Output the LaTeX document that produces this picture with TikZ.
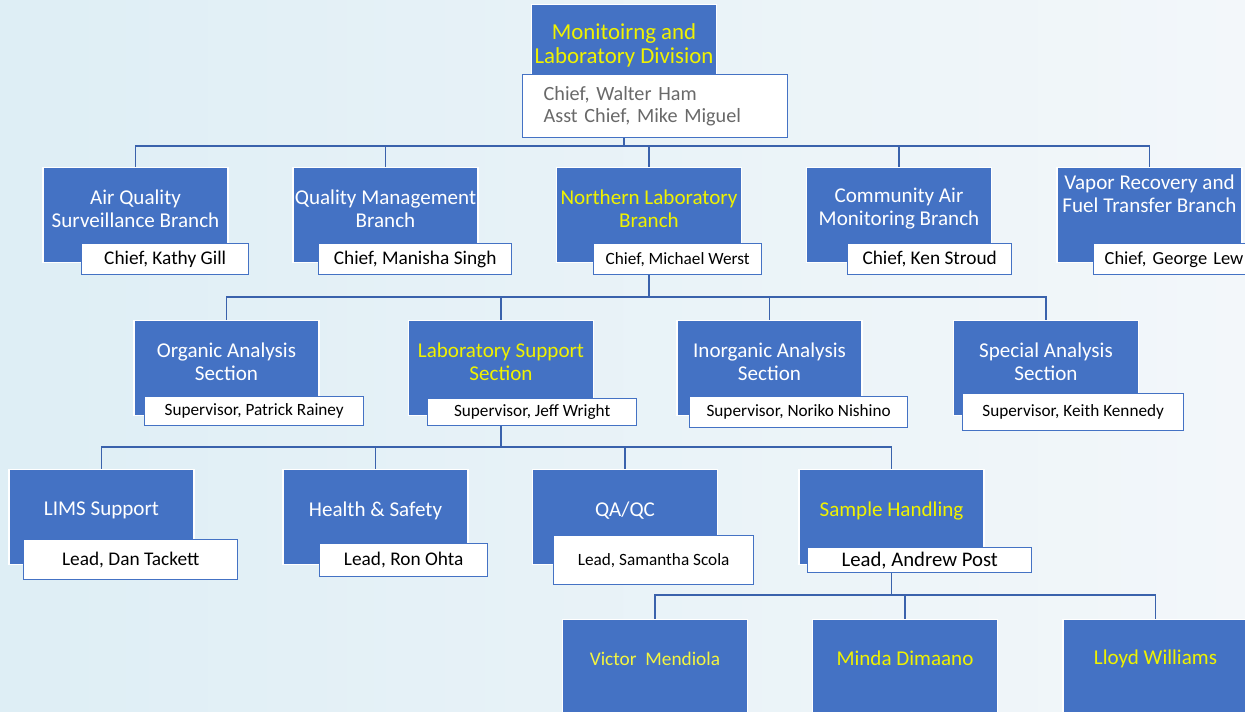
\documentclass[tikz,border=0pt]{standalone}
\usepackage{fontspec}
\setmainfont{Carlito}
\usetikzlibrary{positioning}
\definecolor{azul}{RGB}{68,114,196}
\definecolor{azulo}{RGB}{58,98,172}
\definecolor{amarillo}{RGB}{240,242,0}
\definecolor{gris}{RGB}{105,105,105}
\definecolor{fondoa}{RGB}{222,238,245}
\definecolor{fondob}{RGB}{243,247,250}
\tikzset{
  subida/.store in=\subida, subida=0.26cm,
  caja/.style={rectangle, fill=azul, draw=white, line width=0.8pt, inner sep=0pt,
    text=white, font=\fontsize{12}{13}\selectfont,
    execute at begin node={\begin{minipage}[c][1.9cm][c]{3.7cm}\centering},
    execute at end node={\par\vspace{\subida}\end{minipage}}},
  cajaj/.style={caja, text=amarillo},
  jefe/.style={rectangle, fill=white, draw=azul, line width=0.8pt, inner sep=0pt,
    anchor=north west, font=\fontsize{11}{13}\selectfont},
  jefes/.style={jefe, font=\fontsize{9.8}{12}\selectfont},
  linea/.style={draw=azulo, line width=1.1pt}
}

\begin{document}
\begin{tikzpicture}[x=0.02cm, y=-0.02cm]
  \useasboundingbox (0,0) rectangle (1245,711);
  \clip (0,0) rectangle (1245,711);
  \shade[left color=fondoa, right color=fondob] (0,0) rectangle (1245,711);

  % division
  \node[cajaj, anchor=north, font=\fontsize{13}{13.6}\selectfont] (div) at (624,4) {Monitoirng and\\Laboratory Division};
  \node[jefe, minimum width=5.3cm, minimum height=1.26cm, text width=4.46cm, inner xsep=0.42cm,
    align=left, text=gris, font=\fontsize{11.5}{12.5}\selectfont] (divjefe) at (522,74)
    {Chief,\ Walter Ham\\Asst Chief,\ Mike Miguel};

  % branches
  \node[caja, anchor=north] (aqs) at (135.5,167) {Air Quality\\Surveillance Branch};
  \node[jefe, minimum width=3.34cm, minimum height=0.62cm] (aqsjefe) at (81,243) {Chief, Kathy Gill};
  \node[caja, anchor=north] (qmb) at (385.5,167) {Quality Management\\Branch};
  \node[jefe, minimum width=3.86cm, minimum height=0.62cm] (qmbjefe) at (318,243) {Chief, Manisha Singh};
  \node[cajaj, anchor=north] (nlb) at (649,167) {Northern Laboratory\\Branch};
  \node[jefes, minimum width=3.36cm, minimum height=0.62cm] (nlbjefe) at (593,243) {Chief, Michael Werst};
  \node[caja, anchor=north] (cam) at (899,167) {Community Air\\Monitoring Branch};
  \node[jefe, minimum width=3.28cm, minimum height=0.62cm] (camjefe) at (847,243) {Chief, Ken Stroud};
  \node[caja, anchor=north, subida=0.86cm] (vrf) at (1149.5,167) {Vapor Recovery and\\Fuel Transfer Branch};
  \node[jefe, minimum height=0.62cm, text width=3.4cm, inner xsep=0.22cm, align=left,
    font=\fontsize{10.5}{13}\selectfont] (vrfjefe) at (1093,243) {Chief, George Lew};

  % sections
  \node[caja, anchor=north] (oas) at (226.5,320) {Organic Analysis\\Section};
  \node[jefes, minimum width=4.38cm, minimum height=0.58cm] (oasjefe) at (144,396) {Supervisor, Patrick Rainey};
  \node[cajaj, anchor=north] (lss) at (501,320) {Laboratory Support\\Section};
  \node[jefes, minimum width=4.18cm, minimum height=0.54cm] (lssjefe) at (427,398) {Supervisor, Jeff Wright};
  \node[caja, anchor=north] (ias) at (769.5,320) {Inorganic Analysis\\Section};
  \node[jefes, minimum width=4.36cm, minimum height=0.62cm] (iasjefe) at (689,396) {Supervisor, Noriko Nishino};
  \node[caja, anchor=north] (sas) at (1046,320) {Special Analysis\\Section};
  \node[jefes, minimum width=4.42cm, minimum height=0.74cm] (sasjefe) at (962,393) {Supervisor, Keith Kennedy};

  % units
  \node[caja, anchor=north] (lims) at (101.5,469) {LIMS Support};
  \node[jefe, minimum width=4.28cm, minimum height=0.8cm] (limsjefe) at (23,539) {Lead, Dan Tackett};
  \node[caja, anchor=north] (hys) at (375.5,469) {Health \& Safety};
  \node[jefe, minimum width=3.36cm, minimum height=0.66cm] (hysjefe) at (319,543) {Lead, Ron Ohta};
  \node[caja, anchor=north] (qac) at (625,469) {QA/QC};
  \node[jefes, minimum width=4.0cm, minimum height=0.98cm] (qacjefe) at (553,535) {Lead, Samantha Scola};
  \node[cajaj, anchor=north] (smh) at (891.5,469) {Sample Handling};
  \node[jefe, minimum width=4.48cm, minimum height=0.5cm, font=\fontsize{11.8}{13}\selectfont] (smhjefe) at (807,547) {Lead, Andrew Post};

  % staff
  \node[cajaj, anchor=north, subida=0.34cm, font=\fontsize{11}{13}\selectfont, text=amarillo!75!white] (vme) at (655,619) {Victor\ \ Mendiola};
  \node[cajaj, anchor=north, subida=0.34cm] (mdi) at (905,619) {Minda Dimaano};
  \node[cajaj, anchor=north, subida=0.34cm] (lwi) at (1155.5,619) {Lloyd Williams};

  \coordinate (bus1) at (0,146);
  \coordinate (bus2) at (0,297);
  \coordinate (bus3) at (0,447);
  \coordinate (bus4) at (0,595);
  \foreach \n in {aqs,qmb,nlb,cam,vrf}
    \draw[linea] (divjefe.south -| div) |- (bus1 -| \n) -- (\n.north);
  \foreach \n in {oas,lss,ias,sas}
    \draw[linea] (nlbjefe.south -| nlb) |- (bus2 -| \n) -- (\n.north);
  \foreach \n in {lims,hys,qac,smh}
    \draw[linea] (lssjefe.south -| lss) |- (bus3 -| \n) -- (\n.north);
  \foreach \n in {vme,mdi,lwi}
    \draw[linea] (smhjefe.south -| smh) |- (bus4 -| \n) -- (\n.north);
\end{tikzpicture}
\end{document}
